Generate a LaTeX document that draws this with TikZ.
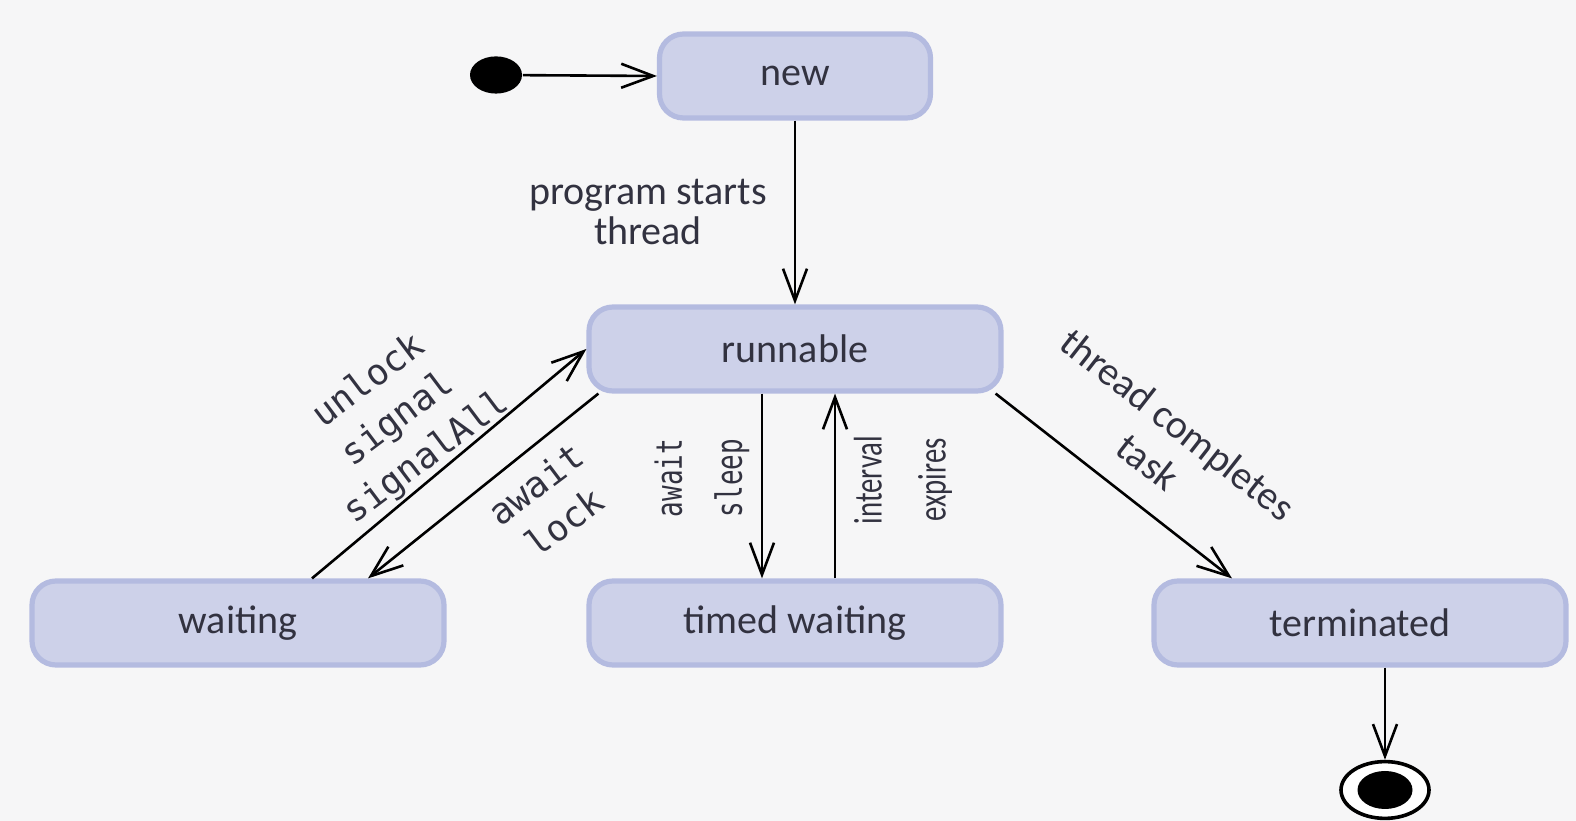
\documentclass[tikz,border=0pt]{standalone}
\usepackage{fontspec}
\setmainfont{Carlito}
\setmonofont{DejaVu Sans Mono}
\usepackage{tikz}
\usetikzlibrary{arrows.meta,shapes.geometric}
\definecolor{bg}{RGB}{246,246,247}
\definecolor{statefill}{RGB}{205,209,233}
\definecolor{stateline}{RGB}{180,187,224}
\definecolor{ink}{RGB}{50,50,64}
\newcommand{\squeeze}[1]{\scalebox{0.72}[1]{#1}}
\tikzset{
  state/.style={rectangle, rounded corners=6pt, fill=statefill, draw=stateline,
    line width=1.3pt, minimum width=103pt, minimum height=21pt, text=ink,
    font=\fontsize{10}{12}\selectfont},
  trans/.style={-{Straight Barb[length=8pt,width=6pt]}, line width=0.65pt},
  startdot/.style={ellipse, fill=black, inner sep=0pt, minimum width=13pt, minimum height=9.3pt},
  endring/.style={ellipse, draw=black, line width=0.9pt, fill=white, inner sep=0pt,
    minimum width=22pt, minimum height=14.2pt},
  txt/.style={text=ink, align=center, inner sep=0pt, font=\fontsize{10}{10}\selectfont},
  code/.style={text=ink, align=center, inner sep=0pt, font=\ttfamily\fontsize{9}{12}\selectfont}
}
\begin{document}
\begin{tikzpicture}[x=0.25pt,y=-0.25pt]
\fill[bg] (0,0) rectangle (1576,821);
% states
\node[startdot] (init) at (496,75) {};
\node[state, minimum width=67.75pt] (new) at (795,76) {new};
\node[state] (runnable) at (795,349) {runnable};
\node[state] (waiting) at (238,623) {waiting};
\node[state] (timed) at (795,623) {timed waiting};
\node[state] (terminated) at (1360,623) {terminated};
\node[endring] (final) at (1385,790) {};
\node[startdot, minimum width=13.75pt, minimum height=9.5pt] (finaldot) at (final) {};
% transitions
\draw[trans] (init) -- (new.west);
\draw[trans] (new.south) -- (runnable.north);
\draw[trans] ([xshift=18.5pt]waiting.north) -- (runnable.west);
\draw[trans] ([xshift=3pt]runnable.south west) -- ([xshift=32.5pt]waiting.north);
\draw[trans] ([xshift=-8.25pt]runnable.south) -- ([xshift=-8.25pt]timed.north);
\draw[trans] ([xshift=10pt]timed.north) -- ([xshift=10pt]runnable.south);
\draw[trans] ([xshift=-2pt]runnable.south east) -- ([xshift=-32pt]terminated.north);
\draw[trans] ([xshift=6.25pt]terminated.south) -- (final.north);
% labels
\node[txt, font=\fontsize{10}{10}\selectfont] (startlbl) at (648,212) {program starts\\thread};
\node[code, rotate=37] (signallbl) at (398,420) {unlock\\signal\\signalAll};
\node[code, rotate=37] (awaitlbl) at (550,503) {await\\lock};
\node[code, rotate=90, font=\ttfamily\fontsize{9}{15}\selectfont] (sleeplbl) at (702,478) {\squeeze{await}\\\squeeze{sleep}};
\node[txt, rotate=90, font=\fontsize{10}{16}\selectfont] (intervallbl) at (903,480) {\squeeze{interval}\\\squeeze{expires}};
\node[txt, rotate=-38, font=\fontsize{10}{12}\selectfont] (donelbl) at (1163,443) {thread completes\\task};
\end{tikzpicture}
\end{document}
